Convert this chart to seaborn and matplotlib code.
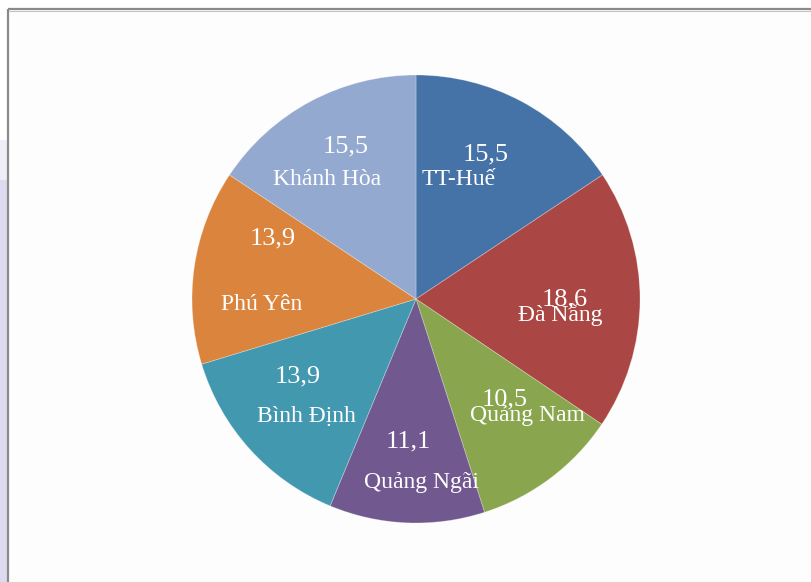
import matplotlib
matplotlib.use("Agg")
import matplotlib.pyplot as plt
from matplotlib.patches import Rectangle
import seaborn as sns

# Provinces of the South-Central Coast and their shares (%)
provinces = ["TT-Huế", "Đà Nẵng", "Quảng Nam", "Quảng Ngãi",
             "Bình Định", "Phú Yên", "Khánh Hòa"]
shares = [15.5, 18.6, 10.5, 11.1, 13.9, 13.9, 15.5]
value_labels = ["15,5", "18,6", "10,5", "11,1", "13,9", "13,9", "15,5"]

slice_colors = ["#4572A7", "#AA4643", "#89A54E", "#71588F",
                "#4198AF", "#DB843D", "#93A9CF"]

# Label anchors (pixel offsets from the pie centre: x right, y = baseline downwards)
value_offsets = [(70, -139), (149, 6), (89, 106), (-8, 148),
                 (-118, 83), (-143, -55), (-70, -147)]
name_offsets = [(43, -114), (144, 22), (111, 122), (6, 189),
                (-110, 123), (-154, 11), (-89, -114)]

sns.set_theme(style="white")
palette = sns.color_palette(slice_colors)
plt.rcParams["font.family"] = ["Liberation Serif", "DejaVu Serif"]

W, H = 812, 582
fig = plt.figure(figsize=(W / 100, H / 100), dpi=100)
fig.patch.set_facecolor("white")

# Frame around the chart area and the faint strip at the left edge
bg = fig.add_axes([0, 0, 1, 1])
bg.set_xlim(0, W)
bg.set_ylim(H, 0)
bg.axis("off")
bg.add_patch(Rectangle((0, 160), 7, H - 160, facecolor="#dedaf0",
                       edgecolor="none", zorder=0))
bg.add_patch(Rectangle((0, 140), 7, 40, facecolor="#efedf8",
                       edgecolor="none", zorder=0))
bg.add_patch(Rectangle((9, 10), W, H, facecolor="#fdfdfd",
                       edgecolor="none", zorder=0))
bg.plot([8, W], [9, 9], color="#8a8a8a", lw=1.6, solid_capstyle="butt")
bg.plot([8, 8], [9, H], color="#8a8a8a", lw=1.6, solid_capstyle="butt")
bg.plot([9, W], [10.8, 10.8], color="#c4c4c4", lw=0.8)

cx, cy, r = 416, 299, 224
ax = fig.add_axes([(cx - r) / W, (H - cy - r) / H, 2 * r / W, 2 * r / H])
ax.pie(shares, colors=palette, startangle=90, counterclock=False,
       radius=1, wedgeprops=dict(edgecolor=(1, 1, 1, 0.3), linewidth=0.6))
ax.set_xlim(-1, 1)
ax.set_ylim(-1, 1)
ax.axis("off")

for (vx, vy), (nx, ny), val, name in zip(value_offsets, name_offsets,
                                         value_labels, provinces):
    ax.text(vx / r, -vy / r, val, ha="center", va="baseline",
            color="white", fontsize=19)
    ax.text(nx / r, -ny / r, name, ha="center", va="baseline",
            color="white", fontsize=17)

fig.savefig("out.png", dpi=100, facecolor=fig.get_facecolor())
